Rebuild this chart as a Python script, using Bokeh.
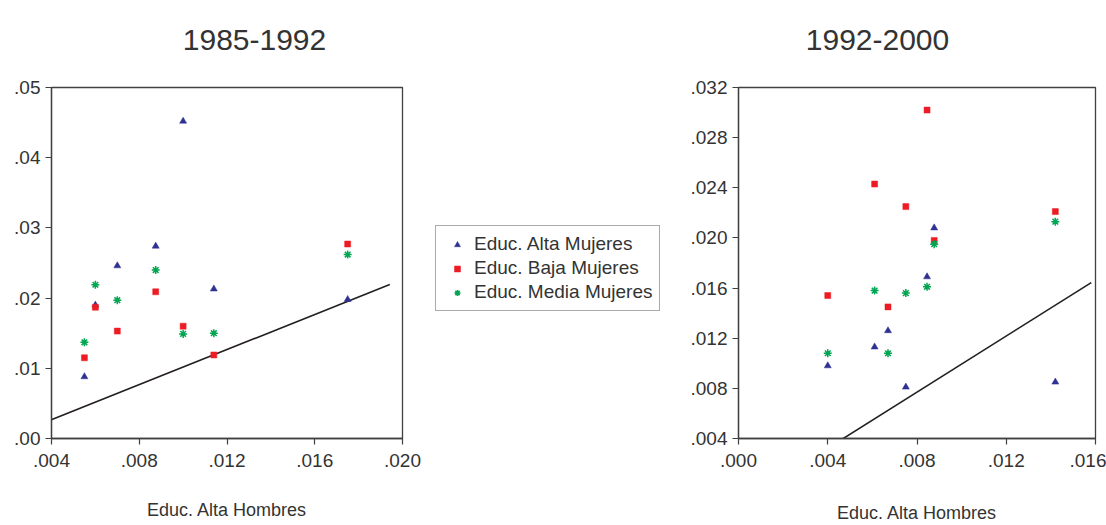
from bokeh.plotting import figure
from bokeh.models import Range1d, FixedTicker, Legend, LegendItem, ColumnDataSource
from bokeh.core.properties import value
from bokeh.layouts import row, column
from bokeh.embed import file_html
from bokeh.resources import INLINE

FONT = "Liberation Sans"
TXT = "#333333"
AX = "#404040"

# ---- titles ----
panel_titles = ["1985-1992", "1992-2000"]

# ---- Panel 1985-1992 ----
x_85 = [0.0055, 0.0060, 0.0070, 0.00875, 0.0100, 0.0114, 0.0175]
alta_85 = [0.0088, 0.0190, 0.0246, 0.0274, 0.0452, 0.0213, 0.0198]
baja_85 = [0.0115, 0.0187, 0.0153, 0.0209, 0.0160, 0.0119, 0.0277]
media_85 = [0.0137, 0.0219, 0.0197, 0.0240, 0.0149, 0.0150, 0.0262]
line_x_85 = [0.00342, 0.01942]
line_y_85 = [0.00195, 0.02194]

# ---- Panel 1992-2000 ----
x_92 = [0.0040, 0.0061, 0.0067, 0.0075, 0.00845, 0.00877, 0.0142]
alta_92 = [0.0098, 0.0113, 0.0126, 0.0081, 0.0169, 0.0208, 0.0085]
baja_92 = [0.0154, 0.0243, 0.0145, 0.0225, 0.0302, 0.0198, 0.0221]
media_92 = [0.0108, 0.0158, 0.0108, 0.0156, 0.0161, 0.0195, 0.0213]
line_x_92 = [0.00423, 0.01581]
line_y_92 = [0.00348, 0.01644]

# ---- ticks ----
x_ticks_85 = [0.004, 0.008, 0.012, 0.016, 0.020]
x_labels_85 = [".004", ".008", ".012", ".016", ".020"]
y_ticks_85 = [0.0, 0.01, 0.02, 0.03, 0.04, 0.05]
y_labels_85 = [".00", ".01", ".02", ".03", ".04", ".05"]
x_ticks_92 = [0.0, 0.004, 0.008, 0.012, 0.016]
x_labels_92 = [".000", ".004", ".008", ".012", ".016"]
y_ticks_92 = [0.004, 0.008, 0.012, 0.016, 0.020, 0.024, 0.028, 0.032]
y_labels_92 = [".004", ".008", ".012", ".016", ".020", ".024", ".028", ".032"]

series_names = ["Educ. Alta Mujeres", "Educ. Baja Mujeres", "Educ. Media Mujeres"]
series_colors = ["#2E3192", "#ED1C24", "#00A651"]
series_markers = ["triangle", "square", "asterisk"]
marker_sizes = [7, 6, 8]
x_title = "Educ. Alta Hombres"

W = 1106
TOP_H = 70
H = 525 - TOP_H


def marker_lw(m):
    return 1.5 if m == "asterisk" else 0.5


def make_panel(xr, yr, xs, ys_list, lx, ly, xt, xl, yt, yl,
               w, bl, br, bt, fh, lab_standoff):
    p = figure(width=w, height=H, x_range=Range1d(*xr), y_range=Range1d(*yr),
               toolbar_location=None, output_backend="svg",
               min_border_left=bl, min_border_right=br, min_border_top=bt,
               min_border_bottom=H - bt - fh)
    p.grid.visible = False
    p.outline_line_color = AX
    p.outline_line_width = 1.3
    p.background_fill_color = "white"
    p.border_fill_color = "white"

    p.line(lx, ly, line_color="#231F20", line_width=1.6)
    for ys, c, m, s in zip(ys_list, series_colors, series_markers, marker_sizes):
        src = ColumnDataSource(data=dict(x=xs, y=ys))
        p.scatter("x", "y", source=src, marker=m, size=s, fill_color=c,
                  line_color=c, line_width=marker_lw(m))

    p.xaxis.ticker = FixedTicker(ticks=xt)
    p.xaxis.major_label_overrides = dict(zip(xt, xl))
    p.yaxis.ticker = FixedTicker(ticks=yt)
    p.yaxis.major_label_overrides = dict(zip(yt, yl))
    for ax in (p.xaxis, p.yaxis):
        ax.axis_line_color = AX
        ax.axis_line_width = 1.3
        ax.major_tick_line_color = AX
        ax.major_tick_line_width = 1.2
        ax.major_tick_in = 0
        ax.major_tick_out = 6
        ax.minor_tick_line_color = None
        ax.major_label_text_font = FONT
        ax.major_label_text_font_size = "19px"
        ax.major_label_text_color = TXT
    p.xaxis.major_label_standoff = 9
    p.yaxis.major_label_standoff = 5
    p.xaxis.axis_label = x_title
    p.xaxis.axis_label_text_font = FONT
    p.xaxis.axis_label_text_font_size = "18px"
    p.xaxis.axis_label_text_font_style = "normal"
    p.xaxis.axis_label_text_color = TXT
    p.xaxis.axis_label_standoff = lab_standoff
    return p


# ---- title strip ----
top = figure(width=W, height=TOP_H, x_range=Range1d(0, W), y_range=Range1d(0, TOP_H),
             toolbar_location=None, output_backend="svg", min_border=0,
             x_axis_location=None, y_axis_location=None)
top.outline_line_color = None
top.grid.visible = False
title_src = ColumnDataSource(data=dict(x=[254, 877], y=[TOP_H - 39.3, TOP_H - 39.3],
                                       t=panel_titles))
top.text("x", "y", text="t", source=title_src, text_align="center",
         text_baseline="alphabetic", text_font=value(FONT),
         text_font_size="30px", text_color=TXT)

p1 = make_panel((0.004, 0.020), (0.0, 0.05), x_85,
                [alta_85, baja_85, media_85], line_x_85, line_y_85,
                x_ticks_85, x_labels_85, y_ticks_85, y_labels_85,
                w=422, bl=51, br=20, bt=87 - TOP_H, fh=351, lab_standoff=30)

p2 = make_panel((0.0, 0.016), (0.004, 0.032), x_92,
                [alta_92, baja_92, media_92], line_x_92, line_y_92,
                x_ticks_92, x_labels_92, y_ticks_92, y_labels_92,
                w=426, bl=58, br=11, bt=85 - TOP_H, fh=357, lab_standoff=33)

# ---- legend panel ----
legend_x = [-1.0]
legend_y = [-1.0]
leg = figure(width=258, height=H, x_range=Range1d(0, 1), y_range=Range1d(0, 1),
             toolbar_location=None, output_backend="svg",
             min_border_left=0, min_border_right=0, min_border_top=87 - TOP_H,
             min_border_bottom=87, x_axis_location=None, y_axis_location=None)
leg.outline_line_color = None
leg.grid.visible = False
items = []
for name, c, m, s in zip(series_names, series_colors, series_markers, marker_sizes):
    src = ColumnDataSource(data=dict(x=legend_x, y=legend_y))
    r = leg.scatter("x", "y", source=src, marker=m, size=s, fill_color=c,
                    line_color=c, line_width=marker_lw(m))
    items.append(LegendItem(label=name, renderers=[r]))
legend = Legend(items=items, location=(13, 127), border_line_color="#555555",
                border_line_width=1, padding=7, spacing=2, label_height=22,
                glyph_width=28, glyph_height=15, label_standoff=3,
                label_text_font=FONT, label_text_font_size="19px",
                label_text_color=TXT, background_fill_color="white",
                background_fill_alpha=1.0, margin=0)
leg.add_layout(legend)

layout = column(top, row(p1, leg, p2))
open("out.html", "w").write(file_html(layout, INLINE))
